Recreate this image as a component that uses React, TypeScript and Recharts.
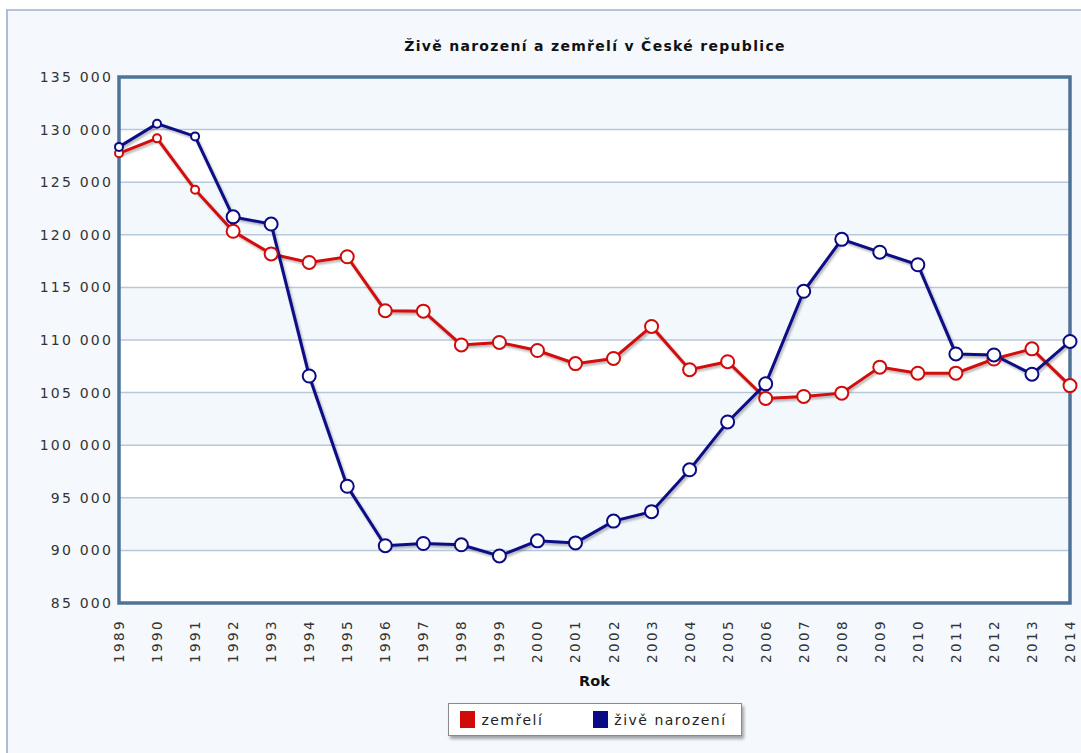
import { LineChart, Line, XAxis, YAxis, CartesianGrid, ReferenceArea, Legend } from 'recharts';

const years = [
  1989, 1990, 1991, 1992, 1993, 1994, 1995, 1996, 1997, 1998, 1999, 2000, 2001,
  2002, 2003, 2004, 2005, 2006, 2007, 2008, 2009, 2010, 2011, 2012, 2013, 2014,
];

const zemreli = [
  127747, 129166, 124290, 120337, 118185, 117373, 117913, 112782, 112744, 109527,
  109768, 109001, 107755, 108243, 111288, 107177, 107938, 104441, 104636, 104948,
  107421, 106844, 106848, 108189, 109160, 105665,
];

const narozeni = [
  128356, 130564, 129354, 121705, 121025, 106579, 96097, 90446, 90657, 90535,
  89471, 90910, 90715, 92786, 93685, 97664, 102211, 105831, 114632, 119570,
  118348, 117153, 108673, 108576, 106751, 109860,
];

const yTicks = [85000, 90000, 95000, 100000, 105000, 110000, 115000, 120000, 125000, 130000, 135000];

const data = years.map((rok, i) => ({ rok, zemreli: zemreli[i], narozeni: narozeni[i] }));

const RED = '#d10a0a';
const BLUE = '#0a0a84';
const FONT = '"DejaVu Sans", Verdana, sans-serif';

const fmt = (v: number) => {
  const s = String(v);
  return s.length > 3 ? s.slice(0, s.length - 3) + ' ' + s.slice(-3) : s;
};

function makeDot(color: string) {
  return (props: any) => {
    const { cx, cy, index } = props;
    const r = index < 3 ? 4 : 6.5;
    return <circle key={index} cx={cx} cy={cy} r={r} fill="#fff" stroke={color} strokeWidth={2} />;
  };
}

function YearTick(props: any) {
  const { x, y, payload } = props;
  return (
    <text
      x={0}
      y={0}
      transform={`translate(${x + 5},${y + 8}) rotate(-90)`}
      textAnchor="end"
      fontSize={13.5}
      letterSpacing={2.4}
      fill="#333"
      fontFamily={FONT}
    >
      {payload.value}
    </text>
  );
}

function LegendBox() {
  const item = (color: string, label: string) => (
    <span style={{ display: 'inline-flex', alignItems: 'center' }}>
      <span style={{ display: 'inline-block', width: 15, height: 17, background: color, marginRight: 6 }} />
      <span>{label}</span>
    </span>
  );
  return (
    <div style={{ textAlign: 'center' }}>
      <div
        style={{
          display: 'inline-flex',
          alignItems: 'center',
          gap: 50,
          padding: '7px 14px 7px 11px',
          background: '#fff',
          border: '1px solid #8a8a8a',
          boxShadow: '2px 3px 3px rgba(0,0,0,0.35)',
          fontFamily: FONT,
          fontSize: 14,
          letterSpacing: 1.5,
          color: '#222',
        }}
      >
        {item(RED, 'zemřelí')}
        {item(BLUE, 'živě narození')}
      </div>
    </div>
  );
}

export default function App() {
  return (
    <div style={{ position: 'absolute', left: 0, top: 0, width: 1081, height: 753, background: '#fff', overflow: 'hidden' }}>
      <div
        style={{
          position: 'absolute',
          left: 6,
          top: 9,
          width: 1090,
          height: 760,
          background: '#f5f9fe',
          borderLeft: '2px solid #a9bdd3',
          borderTop: '2px solid #b3c5d8',
        }}
      />
      <div
        style={{
          position: 'absolute',
          left: 119,
          width: 952,
          top: 38,
          textAlign: 'center',
          fontFamily: FONT,
          fontSize: 14,
          letterSpacing: 1.3,
          fontWeight: 'bold',
          color: '#111',
        }}
      >
        Živě narození a zemřelí v České republice
      </div>
      <div style={{ position: 'absolute', left: 0, top: 0 }}>
        <LineChart width={1081} height={753} data={data} margin={{ top: 77, right: 11, bottom: 0, left: 9 }}>
          <defs>
            <filter id="shadow" x="-5%" y="-5%" width="110%" height="120%">
              <feDropShadow dx="1.5" dy="2" stdDeviation="1.2" floodColor="#000" floodOpacity="0.3" />
            </filter>
          </defs>
          <CartesianGrid
            vertical={false}
            stroke="#b7c8da"
            strokeWidth={1.5}
            horizontalFill={['#f3f8fd', '#ffffff']}
            fillOpacity={1}
          />
          <XAxis
            dataKey="rok"
            type="number"
            domain={[1989, 2014]}
            ticks={years}
            interval={0}
            height={100}
            axisLine={false}
            tickLine={false}
            tick={<YearTick />}
            label={{
              value: 'Rok',
              position: 'insideBottom',
              offset: 17,
              style: { fontFamily: FONT, fontSize: 14.5, fontWeight: 'bold', fill: '#111' },
            }}
          />
          <YAxis
            domain={[85000, 135000]}
            ticks={yTicks}
            interval={0}
            width={110}
            axisLine={false}
            tickLine={false}
            tickFormatter={fmt}
            tick={{ fontSize: 14, fill: '#333', fontFamily: FONT, letterSpacing: 2.2, dx: 2 }}
          />
          <ReferenceArea
            x1={1989}
            x2={2014}
            y1={85000}
            y2={135000}
            fill="none"
            stroke="#4f7398"
            strokeWidth={3.5}
            ifOverflow="visible"
          />
          <Legend
            verticalAlign="bottom"
            height={50}
            wrapperStyle={{ left: 119, width: 952, top: 703 }}
            content={() => <LegendBox />}
          />
          <Line
            dataKey="zemreli"
            name="zemřelí"
            stroke={RED}
            strokeWidth={3}
            dot={makeDot(RED)}
            filter="url(#shadow)"
            isAnimationActive={false}
          />
          <Line
            dataKey="narozeni"
            name="živě narození"
            stroke={BLUE}
            strokeWidth={3}
            dot={makeDot(BLUE)}
            filter="url(#shadow)"
            isAnimationActive={false}
          />
        </LineChart>
      </div>
    </div>
  );
}
